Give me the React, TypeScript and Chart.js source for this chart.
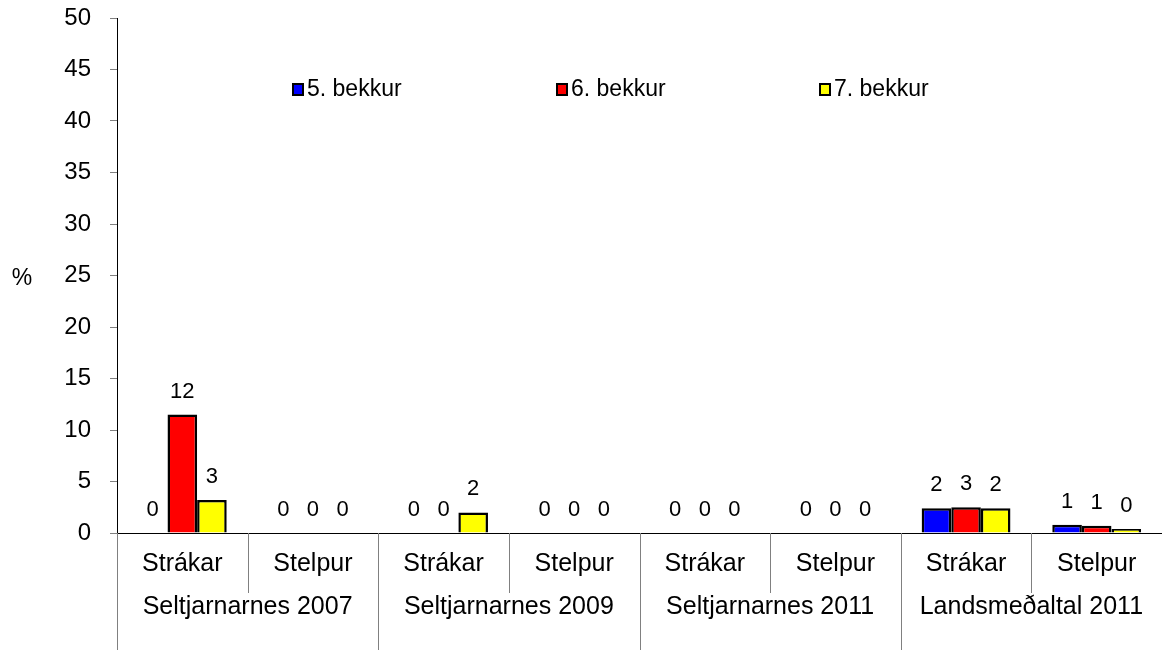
import React, { useEffect, useRef } from "react";
import { Chart, registerables } from "chart.js";

Chart.register(...registerables);

const categories = ["Strákar", "Stelpur", "Strákar", "Stelpur", "Strákar", "Stelpur", "Strákar", "Stelpur"];
const groups = ["Seltjarnarnes 2007", "Seltjarnarnes 2009", "Seltjarnarnes 2011", "Landsmeðaltal 2011"];
const seriesNames = ["5. bekkur", "6. bekkur", "7. bekkur"];
const grade5 = [0, 0, 0, 0, 0, 0, 2.4, 0.8];
const grade6 = [11.5, 0, 0, 0, 0, 0, 2.5, 0.7];
const grade7 = [3.2, 0, 2.0, 0, 0, 0, 2.4, 0.4];
const seriesColors = ["#0000FF", "#FF0000", "#FFFF00"];
const yTicks = [0, 5, 10, 15, 20, 25, 30, 35, 40, 45, 50];
const yTitle = "%";

const FONT = "'Liberation Sans', Arial, sans-serif";

const overlayPlugin = {
  id: "overlay",
  afterDatasetsDraw(chart: any) {
    const ctx = chart.ctx;
    const area = chart.chartArea;
    const xs = chart.scales.x;
    ctx.save();
    // data labels
    ctx.fillStyle = "#000";
    ctx.font = `22px ${FONT}`;
    ctx.textAlign = "center";
    ctx.textBaseline = "middle";
    chart.data.datasets.forEach((ds: any, di: number) => {
      const meta = chart.getDatasetMeta(di);
      meta.data.forEach((el: any, i: number) => {
        const v = ds.data[i];
        ctx.fillText(String(Math.round(v)), el.x, el.y - 23);
      });
    });
    // category separators
    const n = categories.length;
    const cw = (area.right - area.left) / n;
    ctx.strokeStyle = "#808080";
    ctx.lineWidth = 1;
    for (let i = 0; i <= n; i++) {
      const x = Math.round(area.left + i * cw) + 0.5;
      ctx.beginPath();
      ctx.moveTo(x, area.bottom);
      ctx.lineTo(x, i % 2 === 0 ? chart.height : area.bottom + 60);
      ctx.stroke();
    }
    // x labels
    ctx.fillStyle = "#000";
    ctx.font = `25px ${FONT}`;
    categories.forEach((c, i) => {
      ctx.fillText(c, xs.getPixelForValue(i), area.bottom + 31);
    });
    groups.forEach((g, i) => {
      const x = area.left + (2 * i + 1) * cw;
      ctx.fillText(g, x, area.bottom + 74);
    });
    // y title
    ctx.font = `23px ${FONT}`;
    ctx.fillText(yTitle, 22, 279);
    // legend
    const legendX = [293, 557, 820];
    ctx.font = `23px ${FONT}`;
    ctx.textAlign = "left";
    seriesNames.forEach((s, i) => {
      const lx = legendX[i];
      ctx.fillStyle = seriesColors[i];
      ctx.fillRect(lx, 84, 10, 11);
      ctx.strokeStyle = "#000";
      ctx.lineWidth = 2;
      ctx.strokeRect(lx, 84, 10, 11);
      ctx.fillStyle = "#000";
      ctx.fillText(s, lx + 14, 90);
    });
    ctx.restore();
  },
};

export default function App() {
  const ref = useRef<HTMLCanvasElement>(null);
  useEffect(() => {
    const chart = new Chart(ref.current!, {
      type: "bar",
      data: {
        labels: categories,
        datasets: [grade5, grade6, grade7].map((d, i) => ({
          label: seriesNames[i],
          data: d,
          backgroundColor: seriesColors[i],
          borderColor: "#000",
          borderWidth: 2.5,
          categoryPercentage: 0.68,
          barPercentage: 1.0,
        })),
      },
      options: {
        animation: false,
        responsive: true,
        maintainAspectRatio: false,
        layout: { padding: { top: 18, right: 0, bottom: 0, left: 0 } },
        plugins: { legend: { display: false }, tooltip: { enabled: false } },
        scales: {
          x: {
            type: "category",
            ticks: { display: false },
            grid: { display: false },
            border: { display: true, color: "#000", width: 1 },
            afterFit: (s: any) => { s.height = 117; s.paddingLeft = 0; s.paddingRight = 0; },
          },
          y: {
            min: 0,
            max: 50,
            afterBuildTicks: (s: any) => { s.ticks = yTicks.map((v) => ({ value: v })); },
            ticks: { color: "#000", font: { size: 24, family: FONT }, padding: 19 },
            grid: { drawOnChartArea: false, tickLength: 7, color: "#808080" },
            border: { display: true, color: "#000", width: 1 },
            afterFit: (s: any) => { s.width = 117; s.paddingTop = 0; s.paddingBottom = 0; },
          },
        },
      },
      plugins: [overlayPlugin],
    });
    return () => chart.destroy();
  }, []);
  return (
    <div style={{ position: "fixed", left: 0, top: 0, width: 1162, height: 650, background: "#fff" }}>
      <canvas ref={ref} />
    </div>
  );
}
